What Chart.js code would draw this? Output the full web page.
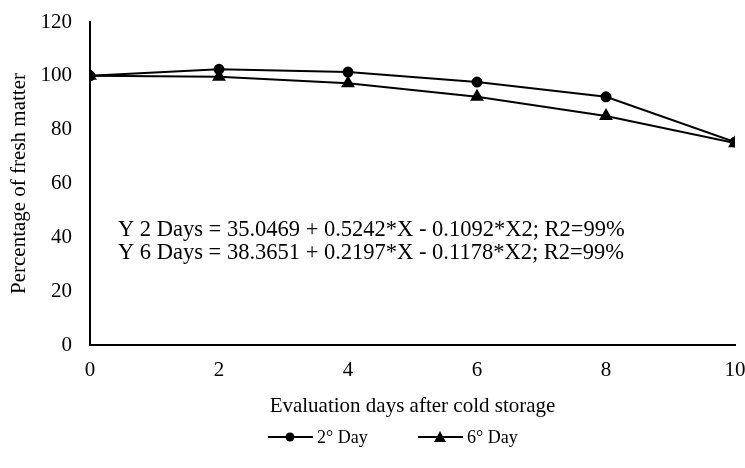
<!DOCTYPE html>
<html>
<head>
<meta charset="utf-8">
<script src="https://cdn.jsdelivr.net/npm/chart.js@4.4.1/dist/chart.umd.min.js"></script>
<style>
  html, body { margin: 0; padding: 0; background: #fff; }
  #wrap { width: 745px; height: 468px; position: relative; }
</style>
</head>
<body>
<div id="wrap"><canvas id="chart"></canvas></div>
<script>
// valori
const days = [0, 2, 4, 6, 8, 10];
const day2 = [100, 102.4, 101.4, 97.7, 92.2, 75.4];
const day6 = [100, 99.7, 97.2, 92.2, 85.1, 75.0];
const yTicks = [0, 20, 40, 60, 80, 100, 120];
const seriesNames = ['2° Day', '6° Day'];
const equations = [
  'Y 2 Days = 35.0469 + 0.5242*X - 0.1092*X2; R2=99%',
  'Y 6 Days = 38.3651 + 0.2197*X - 0.1178*X2; R2=99%'
];

const FONT = "'Liberation Serif', 'Times New Roman', serif";

const toPts = arr => days.map((d, i) => ({ x: d, y: arr[i] }));

// testo delle equazioni dentro l'area del grafico
const equationText = {
  id: 'equationText',
  afterDatasetsDraw(chart){
    const ctx = chart.ctx;
    ctx.save();
    ctx.font = `22.5px ${FONT}`;
    ctx.fillStyle = '#000';
    ctx.textBaseline = 'alphabetic';
    equations.forEach((t, i) => ctx.fillText(t, 118, 236 + i*23));
    ctx.restore();
  }
};

// legenda in basso: linea + marcatore + testo
const bottomLegend = {
  id: 'bottomLegend',
  afterDraw(chart){
    const ctx = chart.ctx;
    const y = 437;
    const starts = [268, 418];
    ctx.save();
    ctx.strokeStyle = '#000';
    ctx.fillStyle = '#000';
    ctx.lineWidth = 2;
    ctx.font = `18px ${FONT}`;
    ctx.textBaseline = 'middle';
    chart.data.datasets.forEach((ds, i) => {
      const x0 = starts[i];
      ctx.beginPath(); ctx.moveTo(x0, y); ctx.lineTo(x0 + 45, y); ctx.stroke();
      const cx = x0 + 22;
      ctx.beginPath();
      if (ds.pointStyle === 'circle'){
        ctx.arc(cx, y, 4.5, 0, Math.PI*2);
      } else {
        ctx.moveTo(cx, y - 6); ctx.lineTo(cx + 6, y + 5); ctx.lineTo(cx - 6, y + 5); ctx.closePath();
      }
      ctx.fill();
      ctx.fillText(ds.label, x0 + 49, y + 1);
    });
    ctx.restore();
  }
};

new Chart(document.getElementById('chart'), {
  type: 'line',
  data: {
    datasets: [
      { label: seriesNames[0], data: toPts(day2), borderColor: '#000', backgroundColor: '#000',
        borderWidth: 2, pointStyle: 'circle', pointRadius: 4.5, tension: 0 },
      { label: seriesNames[1], data: toPts(day6), borderColor: '#000', backgroundColor: '#000',
        borderWidth: 2, pointStyle: 'triangle', pointRadius: 6, tension: 0 }
    ]
  },
  plugins: [equationText, bottomLegend],
  options: {
    responsive: true,
    maintainAspectRatio: false,
    animation: false,
    layout: { padding: 0 },
    plugins: {
      tooltip: { enabled: false },
      legend: { display: false }
    },
    scales: {
      x: {
        type: 'linear',
        min: 0, max: 10,
        afterBuildTicks(axis){ axis.ticks = days.map(v => ({ value: v })); },
        afterFit(axis){ axis.height = 123; axis.paddingLeft = 0; axis.paddingRight = 10; },
        grid: { display: false, drawTicks: false },
        border: { display: true, color: '#000', width: 2 },
        ticks: { color: '#000', padding: 13, maxRotation: 0, font: { family: FONT, size: 21 } },
        title: { display: true, text: 'Evaluation days after cold storage', color: '#000',
                 font: { family: FONT, size: 21 }, padding: { top: 0, bottom: 49 } }
      },
      y: {
        min: 0, max: 120,
        afterBuildTicks(axis){ axis.ticks = yTicks.map(v => ({ value: v })); },
        afterFit(axis){ axis.width = 90; axis.paddingTop = 22; axis.paddingBottom = 0; },
        grid: { display: false, drawTicks: false },
        border: { display: true, color: '#000', width: 2 },
        ticks: { color: '#000', padding: 18, font: { family: FONT, size: 21 } },
        title: { display: true, text: 'Percentage of fresh matter', color: '#000',
                 font: { family: FONT, size: 21 }, padding: { top: 7, bottom: 0 } }
      }
    }
  }
});
</script>
</body>
</html>
